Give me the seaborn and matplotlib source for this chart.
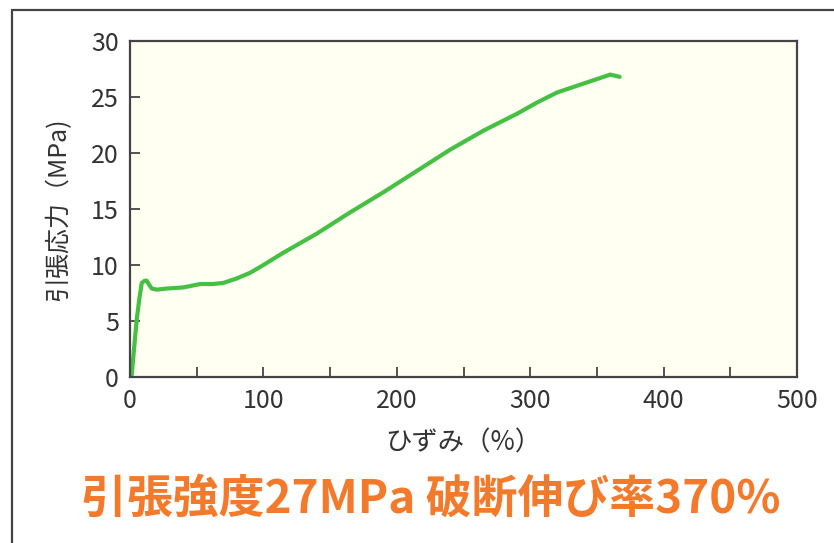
import numpy as np
import pandas as pd
import matplotlib
matplotlib.use("Agg")
import matplotlib.pyplot as plt
from matplotlib.patches import Rectangle
import seaborn as sns

# strain (%) vs tensile stress (MPa)
strain = [0, 1.3, 3, 5, 7, 8.8, 11, 12.5, 14, 16.3, 20, 27.5, 40, 52.5, 62, 70,
          80, 90, 100, 115, 140, 165, 190, 215, 240, 265, 290, 305, 320, 340, 360, 367]
stress = [0, 0.2, 2.5, 5.1, 7.0, 8.4, 8.6, 8.6, 8.3, 7.9, 7.8, 7.9, 8.0, 8.3, 8.3, 8.4,
          8.8, 9.3, 10.0, 11.1, 12.8, 14.7, 16.5, 18.4, 20.3, 22.0, 23.5, 24.5, 25.4, 26.2, 27.0, 26.8]

x_ticks = [0, 100, 200, 300, 400, 500]
y_ticks = [0, 5, 10, 15, 20, 25, 30]

x_label = "ひずみ（%）"
y_label = "引張応力（MPa)"
caption = "引張強度27MPa 破断伸び率370%"

sns.set_style("ticks")
plt.rcParams["font.family"] = ["Noto Sans CJK JP", "DejaVu Sans"]

df = pd.DataFrame({"strain": strain, "stress": stress})

fig = plt.figure(figsize=(8.34, 5.43), dpi=100)
ax = fig.add_axes([0.1559, 0.3057, 0.7998, 0.6188])
ax.set_facecolor("#FFFFF2")

sns.lineplot(data=df, x="strain", y="stress", ax=ax, sort=False, estimator=None,
             color="#45C045", linewidth=3)

ax.set_xlim(0, 500)
ax.set_ylim(0, 30)
ax.set_xticks(x_ticks)
ax.set_xticks(np.arange(0, 501, 50), minor=True)
ax.set_yticks(y_ticks)
ax.tick_params(axis="both", direction="in", length=7, width=1.3, color="#444444",
               labelsize=18, labelcolor="#333333", pad=8)
ax.tick_params(axis="x", which="minor", direction="in", length=7, width=1.3, color="#444444")
for s in ax.spines.values():
    s.set_color("#444444")
    s.set_linewidth(1.6)

ax.set_xlabel(x_label, fontsize=19, color="#333333", labelpad=11)
ax.set_ylabel(y_label, fontsize=18, color="#333333", labelpad=14)

fig.text(0.516, 0.079, caption, ha="center", va="center", fontsize=33,
         fontweight="bold", color="#F37A2B")

# outer frame of the panel
fig.patches.append(Rectangle((0.0144, -0.1), 1.2, 1.0816, transform=fig.transFigure,
                             fill=False, edgecolor="#444444", linewidth=1.6))

fig.savefig("out.png", dpi=100, facecolor="white")
